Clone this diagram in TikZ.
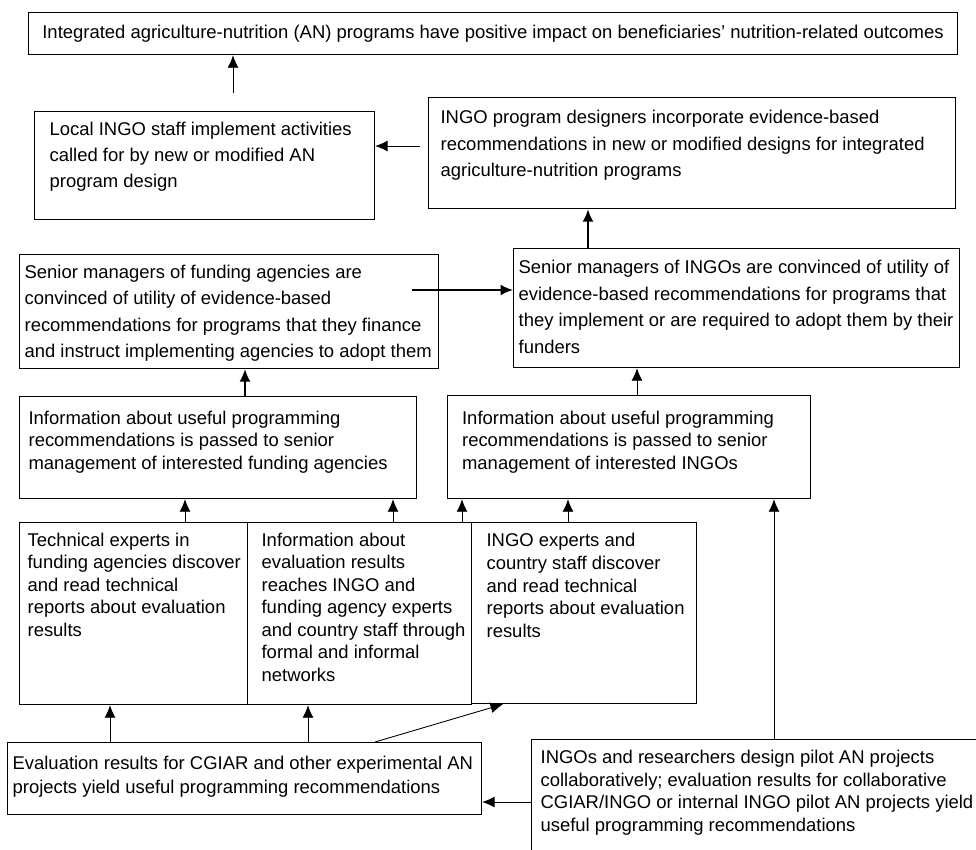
\documentclass[tikz,border=0pt]{standalone}
\usepackage{fontspec}
\setmainfont{Liberation Sans}
\usetikzlibrary{arrows.meta}

% Texto de caja: ancho, alto, margen izq., margen sup., interlineado, texto
\newcommand{\boxtext}[6]{%
  \begin{minipage}[t][#2][t]{#1}%
  \fontsize{10.5pt}{#5}\selectfont\raggedright
  \leftskip=#3\relax
  \vspace*{#4}#6%
  \end{minipage}}

\begin{document}
\begin{tikzpicture}[x=0.02cm, y=-0.02cm, >={Latex[length=2.5mm,width=2.2mm]},
    stagebox/.style={draw, line width=0.7pt, inner sep=0pt, anchor=north west},
    link/.style={->, line width=0.5pt},
    boldlink/.style={->, line width=1pt}]

    % Marco de la imagen
    \useasboundingbox (0,0) rectangle (976,849);
    \clip (0,0) rectangle (976,849);

    % 1. Resultado final (arriba)
    \node[stagebox, minimum width=18.58cm, minimum height=0.84cm,
          font=\fontsize{10.5pt}{13pt}\selectfont] (outcome) at (28,12)
        {Integrated agriculture-nutrition (AN) programs have positive impact on beneficiaries’ nutrition-related outcomes};

    % 2. Diseño y ejecución de programas
    \node[stagebox] (local) at (34,111)
        {\boxtext{6.8cm}{2.16cm}{0.3cm}{0.21cm}{0.52cm}{Local INGO staff implement activities\\called for by new or modified AN\\program design}};
    \node[stagebox] (design) at (428,97)
        {\boxtext{10.54cm}{2.22cm}{0.24cm}{0.25cm}{0.534cm}{INGO program designers incorporate evidence-based\\recommendations in new or modified designs for integrated\\agriculture-nutrition programs}};

    % 3. Directivos convencidos
    \node[stagebox] (sfund) at (19,254)
        {\boxtext{8.38cm}{2.28cm}{0.1cm}{0.21cm}{0.526cm}{Senior managers of funding agencies are\\convinced of utility of evidence-based\\recommendations for programs that they finance\\and instruct implementing agencies to adopt them}};
    \node[stagebox] (singo) at (513,248)
        {\boxtext{8.92cm}{2.38cm}{0.1cm}{0.23cm}{0.532cm}{Senior managers of INGOs are convinced of utility of\\evidence-based recommendations for programs that\\they implement or are required to adopt them by their\\funders}};

    % 4. Información a la dirección
    \node[stagebox] (ifund) at (19,396)
        {\boxtext{7.94cm}{2.04cm}{0.18cm}{0.29cm}{0.446cm}{Information about useful programming\\recommendations is passed to senior\\management of interested funding agencies}};
    \node[stagebox] (iingo) at (447,395)
        {\boxtext{7.26cm}{2.06cm}{0.29cm}{0.31cm}{0.45cm}{Information about useful programming\\recommendations is passed to senior\\management of interested INGOs}};

    % 5. Fila de expertos
    \node[stagebox] (tech) at (19,522)
        {\boxtext{4.56cm}{3.64cm}{0.16cm}{0.21cm}{0.45cm}{Technical experts in\\funding agencies discover\\and read technical\\reports about evaluation\\results}};
    \node[stagebox] (ieval) at (247,522)
        {\boxtext{4.48cm}{3.64cm}{0.28cm}{0.21cm}{0.45cm}{Information about\\evaluation results\\reaches INGO and\\funding agency experts\\and country staff through\\formal and informal\\networks}};
    \node[stagebox] (iexp) at (471,522)
        {\boxtext{4.5cm}{3.62cm}{0.3cm}{0.21cm}{0.456cm}{INGO experts and\\country staff discover\\and read technical\\reports about evaluation\\results}};

    % 6. Resultados de evaluación (abajo)
    \node[stagebox] (eval) at (7,742)
        {\boxtext{9.48cm}{1.44cm}{0.1cm}{0.27cm}{0.48cm}{Evaluation results for CGIAR and other experimental AN\\projects yield useful programming recommendations}};
    \node[stagebox] (research) at (531,739)
        {\boxtext{9.4cm}{2.6cm}{0.18cm}{0.21cm}{0.454cm}{INGOs and researchers design pilot AN projects\\collaboratively; evaluation results for collaborative\\CGIAR/INGO or internal INGO pilot AN projects yield\\useful programming recommendations}};

    % 7. Flechas
    \coordinate (impactTail) at (233,93);
    \draw[link] (impactTail) -- (impactTail |- outcome.south);
    \coordinate (designTail) at (420,146);
    \draw[link] (designTail) -- (designTail -| local.east);
    \coordinate (fundTail) at (412,290);
    \draw[boldlink] (fundTail) -- (fundTail -| singo.west);
    \coordinate (adoptGuide) at (588,0);
    \draw[boldlink] (singo.north -| adoptGuide) -- (design.south -| adoptGuide);
    \coordinate (fundGuide) at (245,0);
    \draw[->, line width=0.8pt] (ifund.north -| fundGuide) -- (sfund.south -| fundGuide);

    % Flechas verticales finas
    \foreach \x/\from/\to in {637/iingo/singo, 185/tech/ifund, 393/ieval/ifund,
                              462/ieval/iingo, 568/iexp/iingo, 774/research/iingo,
                              110/eval/tech, 308/eval/ieval} {
        \coordinate (guide) at (\x,0);
        \draw[link] (\from.north -| guide) -- (\to.south -| guide);
    }

    % Flecha diagonal y flecha horizontal inferior
    \coordinate (diagStart) at (375,0);
    \coordinate (diagEnd) at (503,0);
    \draw[link] (eval.north -| diagStart) -- (iexp.south -| diagEnd);
    \coordinate (pilotRow) at (0,802);
    \draw[link] (research.west |- pilotRow) -- (eval.east |- pilotRow);

\end{tikzpicture}
\end{document}
